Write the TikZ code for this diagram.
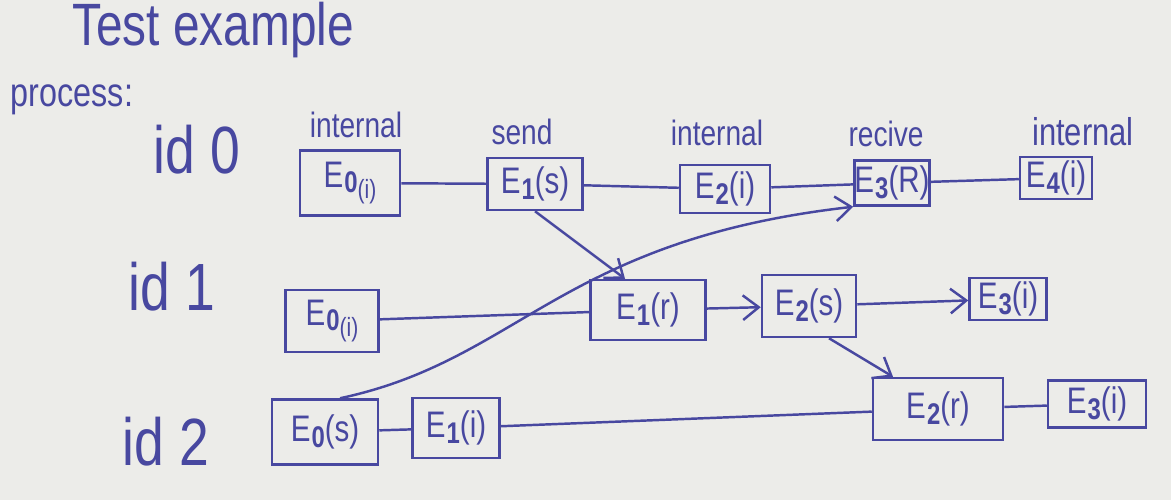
\documentclass[tikz,border=0pt]{standalone}
\usepackage{fontspec}
\setmainfont[FakeStretch=0.8]{Liberation Sans}
\usetikzlibrary{arrows.meta}
\definecolor{ink}{RGB}{72,72,160}
\definecolor{paper}{RGB}{236,236,233}
\newcommand{\ev}[2]{E\kern0.3pt\raisebox{-0.3ex}{\fontsize{8.5}{9}\selectfont\bfseries #1}(#2)}
\newcommand{\evlow}[2]{E\kern0.3pt\raisebox{-0.3ex}{\fontsize{8.5}{9}\selectfont\bfseries #1}\raisebox{-0.6ex}{\fontsize{7.5}{8}\selectfont(#2)}}
\tikzset{
  ev/.style={draw=ink, line width=0.7pt, text=ink, inner sep=0pt, font=\fontsize{10.5}{12}\selectfont},
  lbl/.style={text=ink, inner sep=0pt, font=\fontsize{10}{12}\selectfont},
  pid/.style={text=ink, inner sep=0pt, font=\fontsize{19}{22}\selectfont},
  wire/.style={draw=ink, line width=0.7pt},
  arr/.style={draw=ink, line width=0.7pt, -{Straight Barb[length=4.5pt,width=7pt]}}
}
\begin{document}
\begin{tikzpicture}[x=0.01cm,y=-0.01cm]
\fill[paper] (0,0) rectangle (1171,500);
\useasboundingbox (0,0) rectangle (1171,500);

\node[text=ink, inner sep=0pt, font=\fontsize{17}{20}\selectfont] (title) at (213,30) {Test example};
\node[text=ink, inner sep=0pt, font=\fontsize{11.5}{14}\selectfont] (proc) at (72,100) {process:};
\node[pid] (id0) at (197,150) {id 0};
\node[pid] (id1) at (172,287) {id 1};
\node[pid] (id2) at (166,442) {id 2};

\node[lbl] (l0) at (356,125) {internal};
\node[lbl] (l1) at (522,132) {send};
\node[lbl] (l2) at (717,133) {internal};
\node[lbl] (l3) at (886,134) {recive};
\node[lbl, font=\fontsize{11}{13}\selectfont] (l4) at (1083,132) {internal};

% id 0
\node[ev, minimum width=1.00cm, minimum height=0.65cm] (a0) at (350,183) {\evlow{0}{i}};
\node[ev, minimum width=0.95cm, minimum height=0.52cm] (a1) at (535,184) {\ev{1}{s}};
\node[ev, minimum width=0.90cm, minimum height=0.48cm] (a2) at (725,189) {\ev{2}{i}};
\node[ev, minimum width=0.72cm, minimum height=0.45cm] (a3) at (892,183) {\ev{3}{R}};
\node[ev, minimum width=0.72cm, minimum height=0.42cm] (a4) at (1056,178) {\ev{4}{i}};
% id 1
\node[ev, minimum width=0.93cm, minimum height=0.62cm] (b0) at (332,321) {\evlow{0}{i}};
\node[ev, minimum width=1.15cm, minimum height=0.60cm] (b1) at (648,310) {\ev{1}{r}};
\node[ev, minimum width=0.94cm, minimum height=0.62cm] (b2) at (809,306) {\ev{2}{s}};
\node[ev, minimum width=0.77cm, minimum height=0.42cm] (b3) at (1008,299) {\ev{3}{i}};
% id 2
\node[ev, minimum width=1.06cm, minimum height=0.65cm] (c0) at (325,432) {\ev{0}{s}};
\node[ev, minimum width=0.87cm, minimum height=0.60cm] (c1) at (456,428) {\ev{1}{i}};
\node[ev, minimum width=1.30cm, minimum height=0.62cm] (c2) at (938,409) {\ev{2}{r}};
\node[ev, minimum width=0.98cm, minimum height=0.47cm] (c3) at (1097,404) {\ev{3}{i}};

% process lines
\draw[wire] (a0) -- (a1);
\draw[wire] (a1) -- (a2);
\draw[wire] (a2) -- (a3);
\draw[wire] (a3) -- (a4);
\draw[wire] (b0) -- (b1);
\draw[arr] (b1) -- (b2);
\draw[arr] (b2) -- (b3);
\draw[wire] (c0) -- (c1);
\draw[wire] (c1) -- (c2);
\draw[wire] (c2) -- (c3);

% messages
\draw[arr] (a1.south) -- ([xshift=-0.23cm]b1.north);
\draw[arr] ([xshift=0.15cm]c0.north) .. controls (520,360) and (560,240) .. (a3.south west);
\draw[arr] ([xshift=0.2cm]b2.south) -- ([xshift=-0.45cm]c2.north);
\end{tikzpicture}
\end{document}
